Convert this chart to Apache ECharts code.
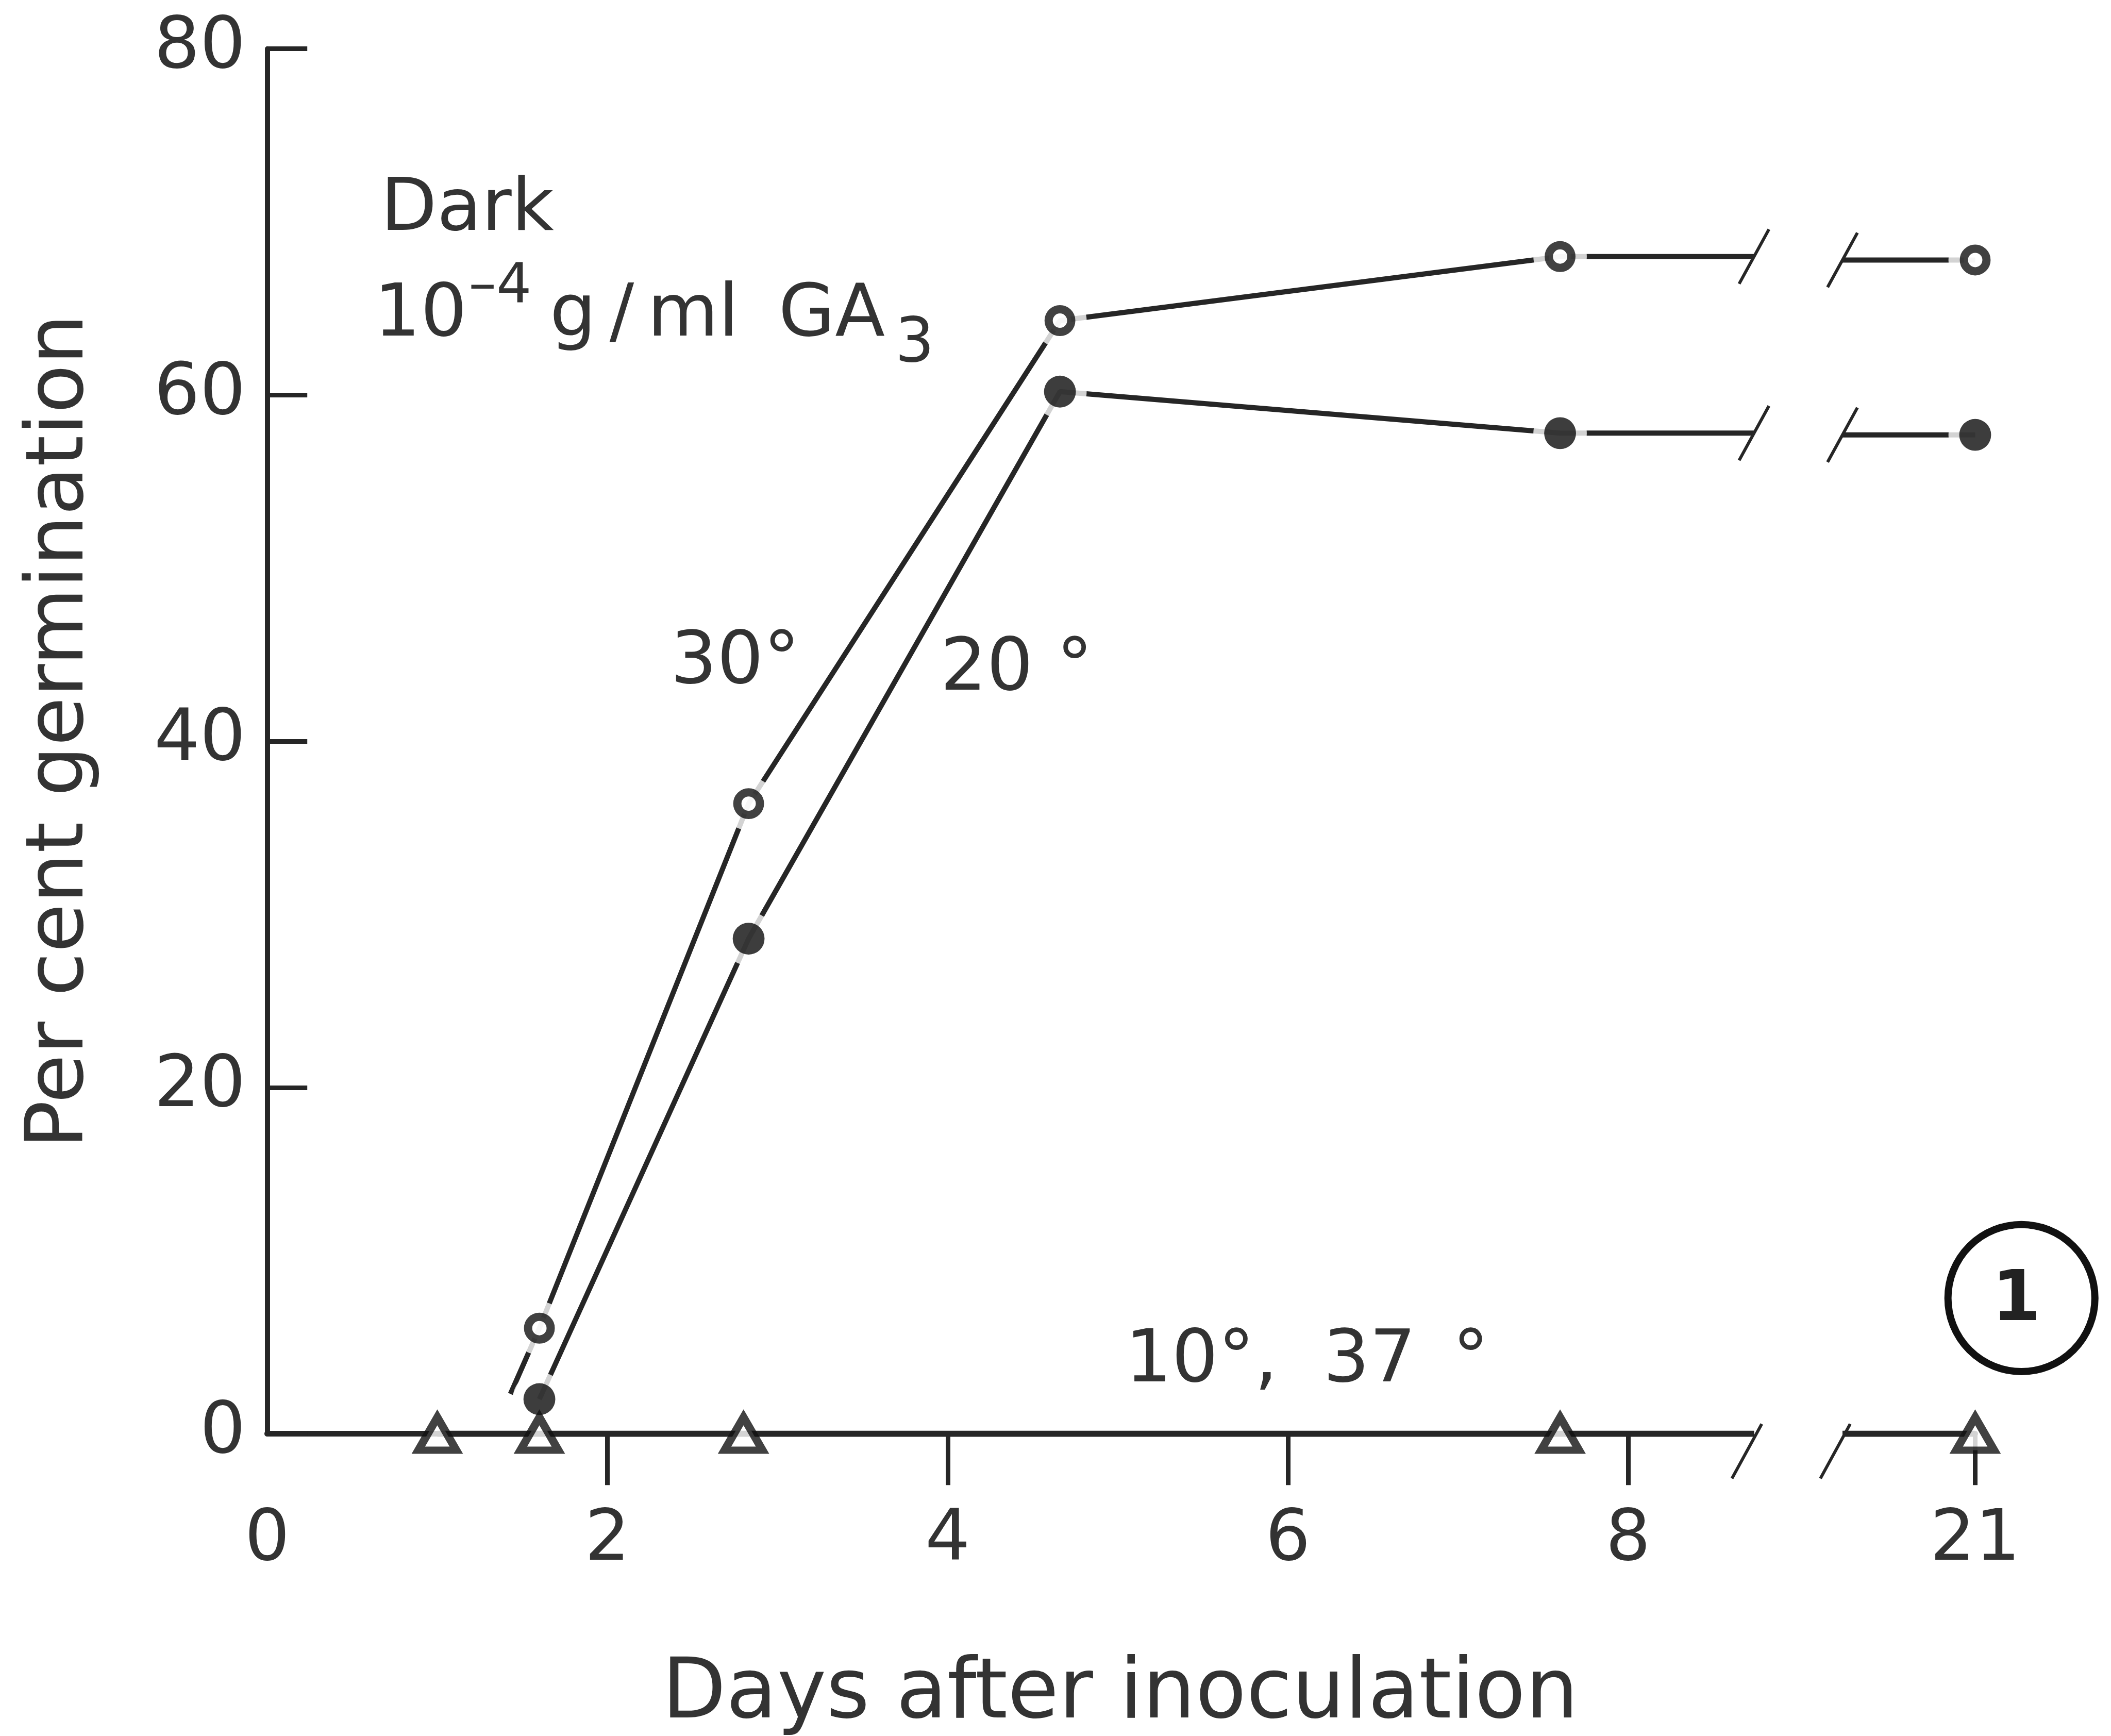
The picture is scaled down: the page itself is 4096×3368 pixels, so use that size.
<!DOCTYPE html>
<html>
<head>
<meta charset="utf-8">
<title>Per cent germination in the dark, 10-4 g/ml GA3</title>
<script src="https://cdn.jsdelivr.net/npm/echarts@6/dist/echarts.min.js"></script>
<style>
  html, body { margin: 0; padding: 0; background: #fff; }
  #chart { width: 4096px; height: 3368px; }
</style>
</head>
<body>
<div id="chart"></div>
<script>
// ---- readings: per cent germination vs days after inoculation ----
const daysWarm = [1.6, 2.83, 4.66, 7.6, 21];
const germ30 = [6.1, 36.4, 64.3, 68.0, 67.8];   // 30 °C, open circles
const germ20 = [2.0, 28.6, 60.2, 57.8, 57.7];   // 20 °C, filled circles
const daysCold = [1.0, 1.6, 2.8, 7.6, 21];
const germCold = [0, 0, 0, 0, 0];               // 10 °C and 37 °C, triangles
// the 30 °C curve is ruled on a little below its first reading
const lead30 = [1.43, 2.3];

const xTickDays = [0, 2, 4, 6, 8, 21];
const xTickText = ['0', '2', '4', '6', '8', '21'];
const yTickStep = 20;

// ---- drawing scale ----
const S = 0.997;
const p = v => v * S;
const FONT = "'DejaVu Sans', 'Liberation Sans', sans-serif";
const INK = '#262626';
const TEXT = '#333';

// broken day axis: 0-8 linear, a gap, then day 21
const BREAK_LO = 8.74, BREAK_HI = 9.26, POS_LAST = 10.04;
const dayToAxis = d => (d <= BREAK_LO ? d : POS_LAST + (d - 21) * 0.05);

function points(days, vals) {
  return days.map((d, i) => [dayToAxis(d), vals[i]]);
}
function curve(days, vals, lead) {
  const left = [], right = [];
  if (lead) left.push([dayToAxis(lead[0]), lead[1]]);
  days.forEach((d, i) => (d <= 8.5 ? left : right).push([dayToAxis(d), vals[i]]));
  left.push([BREAK_LO, left[left.length - 1][1]]);
  right.unshift([BREAK_HI, right[0][1]]);
  return { left, right };
}

const c30 = curve(daysWarm, germ30, lead30);
const c20 = curve(daysWarm, germ20);
const cCold = curve(daysCold, germCold);

function lineSeries(data, z, width) {
  return {
    type: 'line', data, z, clip: false, silent: true,
    symbol: 'none', showSymbol: false,
    lineStyle: { color: INK, width: p(width || 10) },
    animation: false
  };
}
function haloSeries(data, z) {
  return {
    type: 'scatter', data, z, clip: false, silent: true,
    symbol: 'circle', symbolSize: p(104),
    itemStyle: { color: '#fff' }, animation: false
  };
}

// break ticks "/ /" on each curve and on the day axis
const slashData = [
  [BREAK_LO, c30.left[c30.left.length - 1][1], 0], [BREAK_HI, c30.right[0][1], 0],
  [BREAK_LO, c20.left[c20.left.length - 1][1], 0], [BREAK_HI, c20.right[0][1], 0],
  [BREAK_LO, 0, 1], [BREAK_HI, 0, 1]
];

const tickPos = xTickDays.map(dayToAxis);

const chart = echarts.init(document.getElementById('chart'), null, { renderer: 'canvas' });

const txt = (text, x, y, size, extra) => Object.assign({
  type: 'text', x: p(x), y: p(y), silent: true,
  style: { text, font: `${p(size)}px ${FONT}`, fill: TEXT, align: 'left', verticalAlign: 'middle' }
}, extra || {});

chart.setOption({
  backgroundColor: '#fff',
  animation: false,
  grid: {
    left: p(520), top: p(95),
    right: 4096 - p(3844), bottom: 3368 - p(2790),
    containLabel: false, outerBoundsMode: 'none'
  },
  xAxis: {
    type: 'value', min: 0, max: POS_LAST,
    splitLine: { show: false },
    axisLine: { show: true, onZero: true, lineStyle: { color: INK, width: p(11) } },
    axisTick: {
      show: true, inside: false, length: p(100),
      customValues: tickPos.slice(1),
      lineStyle: { color: INK, width: p(9) }
    },
    axisLabel: {
      show: true, customValues: tickPos, hideOverlap: false,
      margin: p(140), fontSize: p(138), fontFamily: FONT, color: TEXT,
      formatter: v => {
        const i = tickPos.findIndex(t => Math.abs(t - v) < 1e-6);
        return i >= 0 ? xTickText[i] : '';
      }
    }
  },
  yAxis: {
    type: 'value', min: 0, max: 80, interval: yTickStep,
    splitLine: { show: false },
    axisLine: { show: true, lineStyle: { color: INK, width: p(10) } },
    axisTick: { show: true, inside: true, length: p(78), lineStyle: { color: INK, width: p(9) } },
    axisLabel: { margin: p(42), fontSize: p(140), fontFamily: FONT, color: TEXT }
  },
  series: [
    lineSeries(c30.left, 2), lineSeries(c30.right, 2),
    haloSeries(points(daysWarm, germ30), 3),
    lineSeries(c20.left, 4), lineSeries(c20.right, 4),
    lineSeries(cCold.left, 4, 12), lineSeries(cCold.right, 4, 12),
    haloSeries(points(daysWarm, germ20), 5),
    {
      // white gap cut into the day axis at the break
      type: 'custom', z: 3, silent: true, clip: false,
      data: [[BREAK_LO, BREAK_HI]],
      renderItem: (params, api) => {
        const a = api.coord([api.value(0), 0]);
        const b = api.coord([api.value(1), 0]);
        return {
          type: 'rect',
          shape: { x: a[0], y: a[1] - p(16), width: b[0] - a[0], height: p(32) },
          style: { fill: '#fff' }
        };
      }
    },
    {
      type: 'custom', z: 7, silent: true, clip: false,
      data: slashData,
      renderItem: (params, api) => {
        const c = api.coord([api.value(0), api.value(1)]);
        const onAxis = api.value(2) === 1;
        const dy = onAxis ? p(34) : 0;
        const dx = onAxis ? -p(14) : 0;
        return {
          type: 'line',
          shape: { x1: c[0] + dx + p(29), y1: c[1] + dy - p(53), x2: c[0] + dx - p(29), y2: c[1] + dy + p(53) },
          style: { stroke: INK, lineWidth: p(6) }
        };
      }
    },
    {
      name: '30°', type: 'scatter', z: 6, clip: false, silent: true,
      data: points(daysWarm, germ30),
      symbol: 'circle', symbolSize: p(44),
      itemStyle: { color: '#fff', borderColor: '#111', borderWidth: p(16) }
    },
    {
      name: '20°', type: 'scatter', z: 6, clip: false, silent: true,
      data: points(daysWarm, germ20),
      symbol: 'circle', symbolSize: p(62),
      itemStyle: { color: '#0d0d0d' }
    },
    {
      name: '10°, 37°', type: 'scatter', z: 6, clip: false, silent: true,
      data: points(daysCold, germCold),
      symbol: 'triangle', symbolSize: [p(74), p(64)],
      itemStyle: { color: '#fff', borderColor: '#111', borderWidth: p(15) }
    }
  ],
  graphic: [
    // axis titles
    txt('Days after inoculation', 2180, 3300, 162, { style: { text: 'Days after inoculation', font: `${p(162)}px ${FONT}`, fill: TEXT, align: 'center', verticalAlign: 'middle' } }),
    txt('Per cent germination', 120, 1423, 155, { rotation: Math.PI / 2, style: { text: 'Per cent germination', font: `${p(155)}px ${FONT}`, fill: TEXT, align: 'center', verticalAlign: 'middle' } }),
    // condition note
    txt('Dark', 741, 410, 142),
    txt('10', 728, 616, 142),
    txt('–4', 912, 560, 108),
    txt('g', 1070, 616, 142),
    txt('/', 1186, 616, 142),
    txt('ml', 1260, 616, 142),
    txt('GA', 1515, 616, 142),
    txt('3', 1742, 672, 120),
    // curve labels
    txt('30°', 1305, 1292, 142),
    txt('20 °', 1830, 1305, 142),
    txt('10°,', 2190, 2651, 142),
    txt('37\u2002°', 2575, 2651, 142),
    // figure number
    { type: 'circle', silent: true, shape: { cx: p(3934), cy: p(2526), r: p(143) },
      style: { fill: 'none', stroke: '#111', lineWidth: p(14) } },
    txt('1', 3924, 2533, 136, { style: { text: '1', font: `bold ${p(136)}px ${FONT}`, fill: '#222', align: 'center', verticalAlign: 'middle' } })
  ]
});
</script>
</body>
</html>
